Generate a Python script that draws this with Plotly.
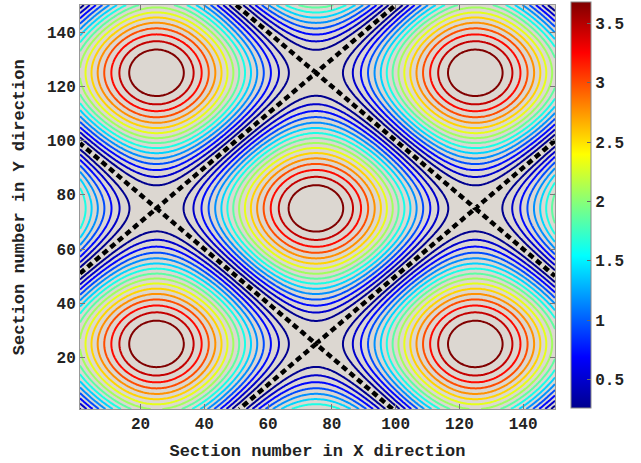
import numpy as np
import plotly.graph_objects as go

# ---- data ----
section_x = np.linspace(1, 150, 331)
section_y = np.linspace(1, 150, 331)
peak_value = [3.75]          # field maximum at the cell centres
cell_period = [100.0]        # spatial period in sections
contour_levels = [0.26, 3.49, 0.215]   # start, end, step
color_range = [0.26, 3.68]
x_ticks = [20, 40, 60, 80, 100, 120, 140]
y_ticks = [20, 40, 60, 80, 100, 120, 140]
cbar_ticks = [0.5, 1, 1.5, 2, 2.5, 3, 3.5]
cbar_ticklabels = ["0.5", "1", "1.5", "2", "2.5", "3", "3.5"]

X, Y = np.meshgrid(section_x, section_y)
k = 2 * np.pi / cell_period[0]
signed_field = np.sin(k * X) + np.sin(k * Y)
magnitude = peak_value[0] / 2 * np.abs(signed_field)

jet = [[0, "#00008f"], [0.125, "#0000ff"], [0.375, "#00ffff"],
       [0.625, "#ffff00"], [0.875, "#ff0000"], [1, "#800000"]]

FONT = "Liberation Mono"
title_font = dict(family=FONT, size=17, color="#222222", weight="bold")

fig = go.Figure()
fig.add_trace(go.Contour(
    x=section_x, y=section_y, z=magnitude,
    colorscale=jet, zauto=False, zmin=color_range[0], zmax=color_range[1],
    contours=dict(start=contour_levels[0], end=contour_levels[1],
                  size=contour_levels[2], coloring="lines"),
    line=dict(width=2), showscale=False, hoverinfo="skip",
))
fig.add_trace(go.Contour(
    x=section_x, y=section_y, z=signed_field,
    contours=dict(start=0, end=0, size=1, coloring="none"),
    line=dict(color="black", width=4.5, dash="6px,4px"),
    showscale=False, hoverinfo="skip",
))
fig.add_trace(go.Scatter(
    x=[75], y=[75], mode="markers", hoverinfo="skip", showlegend=False,
    marker=dict(size=1, opacity=0, color=[color_range[0]], colorscale=jet,
                cmin=color_range[0], cmax=color_range[1], showscale=True,
                colorbar=dict(
                    x=1.034, xanchor="left", xref="paper", xpad=0, ypad=0,
                    y=0.505, yanchor="middle",
                    len=406, lenmode="pixels", thickness=20, thicknessmode="pixels",
                    outlinecolor="#888888", outlinewidth=1,
                    tickvals=cbar_ticks, ticktext=cbar_ticklabels,
                    ticks="inside", ticklen=4, tickcolor="#666666",
                    tickfont=dict(family=FONT, size=16, color="#222222", weight="bold"),
                ))
))

axis_common = dict(
    showgrid=False, zeroline=False, showline=True, linecolor="#999999", linewidth=1,
    mirror="ticks", ticks="inside", ticklen=5, tickcolor="#777777",
    tickfont=dict(family=FONT, size=16, color="#222222", weight="bold"),
)
fig.update_xaxes(range=[1, 150], tickvals=x_ticks, **axis_common,
                 title=dict(text="Section number in X direction",
                            font=title_font, standoff=10))
fig.update_yaxes(range=[1, 150], tickvals=y_ticks, **axis_common)
fig.add_annotation(text="Section number in Y direction", textangle=-90,
                   xref="paper", yref="paper", x=-0.128, y=0.5,
                   xanchor="center", yanchor="middle", showarrow=False,
                   font=title_font)
fig.update_layout(
    width=641, height=463,
    margin=dict(l=80, r=86, t=5, b=54, autoexpand=False),
    plot_bgcolor="#dcd7d1", paper_bgcolor="white",
    showlegend=False,
)
fig.write_html("out.html")
